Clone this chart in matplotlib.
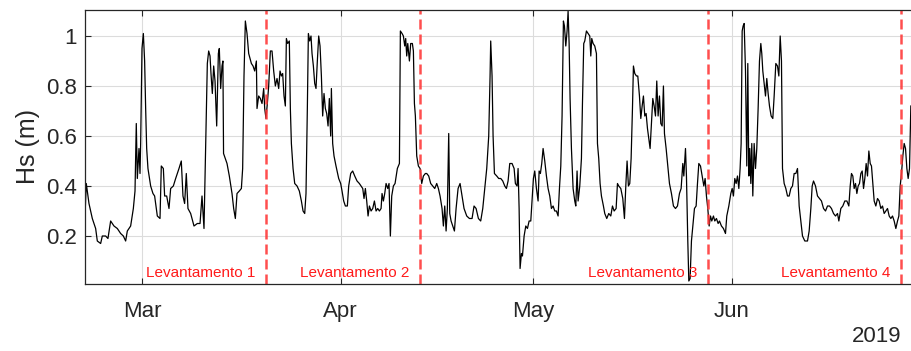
import numpy as np
import pandas as pd
import matplotlib
matplotlib.use('Agg')
import matplotlib.pyplot as plt
import matplotlib.dates as mdates

plt.rcParams['font.family'] = ['Liberation Sans', 'DejaVu Sans']

# Hs series, time as days since 2019-03-01
days = [
    -8.89, -8.69, -8.27, -7.75, -7.23, -6.97, -6.45, -6.19, -5.67, -5.31,
    -4.89, -4.37, -3.85, -3.33, -2.91, -2.55, -2.29, -1.77, -1.35, -1.09,
    -0.89, -0.73, -0.47, -0.31, -0.21, 0.00, 0.21, 0.41, 0.57, 0.73,
    0.93, 1.35, 1.71, 1.97, 2.13, 2.39, 2.81, 3.01, 3.33, 3.53,
    3.85, 4.21, 4.47, 4.89, 5.25, 5.77, 6.13, 6.39, 6.65, 6.91,
    7.17, 7.59, 8.11, 8.63, 9.05, 9.36, 9.67, 9.93, 10.19, 10.40,
    10.61, 10.76, 10.97, 11.18, 11.39, 11.65, 11.91, 12.06, 12.27, 12.48,
    12.62, 12.72, 13.26, 13.62, 14.04, 14.30, 14.56, 14.82, 15.18, 15.50,
    15.70, 15.91, 16.12, 16.38, 16.64, 17.06, 17.32, 17.58, 17.84, 17.94,
    18.20, 18.46, 18.72, 18.98, 19.14, 19.34, 19.55, 19.76, 20.02, 20.28,
    20.54, 20.80, 21.06, 21.32, 21.53, 21.74, 21.94, 22.15, 22.36, 22.52,
    22.72, 22.98, 23.14, 23.30, 23.56, 23.82, 24.18, 24.54, 24.86, 25.12,
    25.38, 25.58, 25.79, 25.95, 26.16, 26.36, 26.52, 26.73, 26.94, 27.14,
    27.35, 27.56, 27.77, 27.98, 28.18, 28.39, 28.60, 28.81, 29.02, 29.22,
    29.43, 29.54, 29.74, 29.95, 30.26, 30.68, 30.99, 31.20, 31.46, 31.72,
    32.03, 32.24, 32.55, 32.86, 33.18, 33.54, 33.90, 34.43, 34.63, 34.84,
    35.05, 35.26, 35.47, 35.73, 35.99, 36.25, 36.51, 36.77, 37.03, 37.29,
    37.44, 37.65, 37.86, 38.07, 38.33, 38.53, 38.74, 38.95, 39.21, 39.47,
    39.83, 40.15, 40.30, 40.56, 40.77, 40.98, 41.13, 41.29, 41.45, 41.71,
    41.91, 42.17, 42.33, 42.49, 42.64, 42.85, 43.11, 43.37, 43.63, 43.89,
    44.20, 44.41, 44.72, 45.03, 45.35, 45.66, 45.97, 46.23, 46.49, 46.80,
    47.01, 47.22, 47.43, 47.63, 47.84, 48.00, 48.21, 48.47, 48.73, 48.99,
    49.30, 49.61, 49.92, 50.23, 50.65, 51.07, 51.48, 51.79, 52.11, 52.47,
    52.83, 53.15, 53.46, 53.77, 54.08, 54.29, 54.39, 54.60, 54.76, 54.97,
    55.33, 55.64, 55.96, 56.27, 56.58, 56.84, 57.10, 57.36, 57.72, 58.04,
    58.24, 58.50, 58.66, 58.82, 58.97, 59.18, 59.34, 59.60, 59.86, 60.12,
    60.38, 60.64, 60.84, 61.05, 61.26, 61.52, 61.78, 61.94, 62.14, 62.35,
    62.56, 62.82, 63.08, 63.34, 63.60, 63.86, 64.12, 64.38, 64.64, 64.90,
    65.11, 65.32, 65.52, 65.73, 65.89, 66.10, 66.30, 66.46, 66.62, 66.77,
    66.98, 67.24, 67.50, 67.66, 67.86, 68.02, 68.28, 68.54, 68.70, 68.90,
    69.06, 69.32, 69.58, 69.84, 70.00, 70.15, 70.36, 70.62, 70.88, 71.04,
    71.24, 71.45, 71.66, 71.97, 72.18, 72.49, 72.80, 73.12, 73.38, 73.64,
    73.95, 74.16, 74.36, 74.68, 74.99, 75.25, 75.46, 75.66, 75.87, 76.08,
    76.29, 76.50, 76.65, 76.86, 77.12, 77.33, 77.59, 77.80, 78.01, 78.21,
    78.42, 78.63, 78.84, 79.05, 79.25, 79.46, 79.67, 79.88, 80.09, 80.29,
    80.50, 80.71, 80.92, 81.13, 81.33, 81.49, 81.75, 82.01, 82.27, 82.58,
    82.89, 83.21, 83.52, 83.83, 84.09, 84.35, 84.51, 84.77, 84.92, 85.13,
    85.29, 85.49, 85.70, 85.91, 86.17, 86.43, 86.64, 86.85, 87.11, 87.37,
    87.63, 87.83, 88.04, 88.25, 88.46, 88.67, 88.87, 89.13, 89.34, 89.60,
    89.86, 90.07, 90.38, 90.69, 91.01, 91.21, 91.53, 91.84, 92.05, 92.25,
    92.46, 92.67, 92.88, 93.09, 93.29, 93.45, 93.61, 93.76, 93.92, 94.13,
    94.33, 94.49, 94.65, 94.80, 94.96, 95.11, 95.27, 95.48, 95.69, 95.89,
    96.10, 96.31, 96.52, 96.67, 96.83, 97.04, 97.25, 97.45, 97.66, 97.87,
    98.13, 98.39, 98.60, 98.86, 99.12, 99.33, 99.54, 99.74, 99.90, 100.16,
    100.42, 100.68, 100.94, 101.20, 101.46, 101.72, 101.98, 102.24, 102.50, 102.76,
    103.02, 103.38, 103.80, 104.06, 104.32, 104.53, 104.74, 105.05, 105.36, 105.67,
    105.98, 106.30, 106.61, 106.92, 107.23, 107.54, 107.86, 108.17, 108.48, 108.69,
    109.00, 109.31, 109.62, 109.94, 110.25, 110.46, 110.66, 110.87, 111.08, 111.29,
    111.50, 111.70, 111.91, 112.12, 112.33, 112.54, 112.74, 112.95, 113.16, 113.37,
    113.58, 113.78, 113.99, 114.20, 114.46, 114.72, 114.98, 115.24, 115.50, 115.76,
    116.02, 116.28, 116.54, 116.80, 117.06, 117.32, 117.58, 117.84, 118.05, 118.26,
    118.46, 118.67, 118.88, 119.09, 119.30, 119.50, 119.71, 119.92,
]
hs = [
    0.28, 0.41, 0.33, 0.27, 0.23, 0.18, 0.17, 0.20, 0.20, 0.19,
    0.26, 0.24, 0.23, 0.21, 0.20, 0.18, 0.22, 0.24, 0.31, 0.38,
    0.65, 0.43, 0.55, 0.45, 0.57, 0.95, 1.01, 0.90, 0.71, 0.55,
    0.47, 0.40, 0.37, 0.36, 0.33, 0.28, 0.27, 0.48, 0.47, 0.36,
    0.36, 0.31, 0.39, 0.40, 0.43, 0.47, 0.50, 0.36, 0.33, 0.45,
    0.31, 0.29, 0.24, 0.25, 0.25, 0.36, 0.23, 0.55, 0.89, 0.94,
    0.92, 0.85, 0.77, 0.88, 0.82, 0.64, 0.93, 0.95, 0.79, 0.88,
    0.90, 0.53, 0.49, 0.44, 0.37, 0.31, 0.27, 0.37, 0.38, 0.39,
    0.47, 0.84, 1.06, 1.01, 0.93, 0.89, 0.88, 0.86, 0.90, 0.71,
    0.76, 0.75, 0.73, 0.79, 0.71, 0.67, 0.73, 0.80, 0.94, 0.94,
    0.86, 0.80, 0.83, 0.79, 0.86, 0.84, 0.85, 0.76, 0.72, 0.99,
    0.97, 0.98, 0.71, 0.57, 0.47, 0.41, 0.40, 0.38, 0.34, 0.30,
    0.29, 0.37, 0.71, 1.01, 0.98, 1.00, 0.93, 0.88, 0.81, 0.79,
    0.90, 1.00, 0.96, 0.84, 0.68, 0.77, 0.71, 0.69, 0.64, 0.75,
    0.60, 0.79, 0.57, 0.52, 0.48, 0.43, 0.41, 0.38, 0.34, 0.32,
    0.32, 0.40, 0.45, 0.46, 0.44, 0.42, 0.41, 0.39, 0.35, 0.39,
    0.34, 0.28, 0.32, 0.30, 0.31, 0.34, 0.30, 0.31, 0.30, 0.31,
    0.37, 0.34, 0.37, 0.41, 0.39, 0.41, 0.20, 0.36, 0.40, 0.41,
    0.47, 0.49, 1.02, 1.01, 1.00, 0.96, 0.99, 0.92, 0.97, 0.90,
    0.97, 0.97, 0.94, 0.73, 0.68, 0.52, 0.48, 0.47, 0.41, 0.44,
    0.45, 0.45, 0.44, 0.41, 0.40, 0.39, 0.41, 0.39, 0.36, 0.31,
    0.24, 0.32, 0.22, 0.31, 0.61, 0.29, 0.26, 0.24, 0.22, 0.31,
    0.39, 0.41, 0.36, 0.31, 0.28, 0.27, 0.27, 0.32, 0.31, 0.27,
    0.26, 0.31, 0.39, 0.47, 0.60, 0.84, 0.98, 0.84, 0.60, 0.45,
    0.44, 0.43, 0.43, 0.42, 0.40, 0.39, 0.42, 0.49, 0.49, 0.47,
    0.41, 0.40, 0.47, 0.31, 0.07, 0.13, 0.12, 0.20, 0.24, 0.23,
    0.26, 0.26, 0.34, 0.43, 0.46, 0.39, 0.34, 0.46, 0.45, 0.49,
    0.55, 0.50, 0.44, 0.39, 0.36, 0.31, 0.32, 0.30, 0.30, 0.28,
    0.39, 0.48, 0.68, 1.06, 1.04, 0.96, 1.02, 1.10, 0.97, 0.75,
    0.55, 0.39, 0.34, 0.32, 0.46, 0.34, 0.40, 0.51, 0.73, 0.97,
    0.98, 1.02, 1.01, 1.00, 0.92, 0.99, 0.97, 0.96, 0.93, 0.57,
    0.51, 0.41, 0.36, 0.32, 0.29, 0.27, 0.29, 0.28, 0.32, 0.30,
    0.31, 0.41, 0.40, 0.39, 0.35, 0.27, 0.40, 0.50, 0.40, 0.41,
    0.51, 0.71, 0.88, 0.85, 0.84, 0.84, 0.76, 0.67, 0.72, 0.76,
    0.68, 0.69, 0.63, 0.59, 0.55, 0.65, 0.75, 0.72, 0.68, 0.82,
    0.68, 0.76, 0.65, 0.64, 0.80, 0.61, 0.55, 0.48, 0.41, 0.37,
    0.32, 0.31, 0.32, 0.37, 0.39, 0.49, 0.44, 0.55, 0.44, 0.18,
    0.02, 0.03, 0.18, 0.24, 0.31, 0.32, 0.41, 0.49, 0.48, 0.44,
    0.40, 0.43, 0.36, 0.31, 0.24, 0.28, 0.26, 0.28, 0.26, 0.27,
    0.25, 0.26, 0.24, 0.23, 0.21, 0.28, 0.32, 0.37, 0.39, 0.36,
    0.43, 0.41, 0.44, 0.39, 0.47, 0.57, 1.02, 1.04, 1.05, 0.86,
    0.48, 0.89, 0.44, 0.55, 0.41, 0.57, 0.36, 0.57, 0.47, 0.55,
    0.71, 0.90, 0.97, 0.93, 0.86, 0.81, 0.76, 0.83, 0.77, 0.72,
    0.68, 0.67, 0.76, 0.89, 0.88, 0.84, 1.00, 0.90, 0.47, 0.41,
    0.39, 0.36, 0.36, 0.39, 0.40, 0.45, 0.45, 0.47, 0.32, 0.26,
    0.20, 0.18, 0.18, 0.22, 0.31, 0.40, 0.42, 0.40, 0.36, 0.35,
    0.34, 0.31, 0.30, 0.32, 0.32, 0.31, 0.29, 0.28, 0.29, 0.26,
    0.31, 0.32, 0.34, 0.34, 0.32, 0.40, 0.45, 0.44, 0.39, 0.41,
    0.37, 0.40, 0.41, 0.45, 0.46, 0.39, 0.43, 0.49, 0.44, 0.54,
    0.49, 0.48, 0.41, 0.34, 0.32, 0.35, 0.34, 0.31, 0.32, 0.29,
    0.30, 0.31, 0.28, 0.27, 0.28, 0.26, 0.23, 0.26, 0.28, 0.40,
    0.45, 0.52, 0.57, 0.55, 0.47, 0.43, 0.47, 0.72,
]

# survey dates (days since 2019-03-01) and their labels
survey_days = [19.40, 43.37, 88.30, 118.36]
survey_labels = ['Levantamento 1', 'Levantamento 2', 'Levantamento 3', 'Levantamento 4']

t0 = pd.Timestamp('2019-03-01')
t = t0 + pd.to_timedelta(np.array(days), unit='D')

fig = plt.figure(figsize=(9.12, 3.51), dpi=100)
ax = fig.add_axes([85 / 912, 67 / 351, 827 / 912, 274 / 351])

ax.plot(t, hs, color='black', linewidth=0.9)

dark = '#262626'
for d, lab in zip(survey_days, survey_labels):
    ts = t0 + pd.Timedelta(days=d)
    ax.axvline(ts, color='#ff3b3b', linestyle=(0, (4, 2)), linewidth=1.8, alpha=0.9)
    ax.text(ts - pd.Timedelta(days=1.7), 0.052, lab, color='#ff1a1a',
            fontsize=11, ha='right', va='center')

ax.set_xlim(t0 + pd.Timedelta(days=-8.89), t0 + pd.Timedelta(days=120.1))
ax.set_ylim(0.008, 1.104)
ax.set_yticks([0.2, 0.4, 0.6, 0.8, 1.0])
ax.yaxis.set_major_formatter(plt.FuncFormatter(lambda v, p: f'{v:g}'))
ax.xaxis.set_major_locator(mdates.MonthLocator())
ax.xaxis.set_major_formatter(mdates.DateFormatter('%b'))

ax.grid(True, color='#dcdcdc', linewidth=0.8)
ax.set_axisbelow(True)
ax.tick_params(axis='both', direction='in', length=4, width=0.8, colors=dark,
               labelsize=16, top=True, right=False)
ax.tick_params(axis='x', pad=12)
ax.tick_params(axis='y', pad=6)
for side in ['top', 'left', 'bottom']:
    ax.spines[side].set_color(dark)
    ax.spines[side].set_linewidth(0.9)
ax.spines['right'].set_visible(False)

ax.set_ylabel('Hs (m)', fontsize=18, color=dark, labelpad=4)
fig.text(877 / 912, 1 - 336 / 351, '2019', fontsize=16, color=dark,
         ha='center', va='center')

fig.savefig('out.png', dpi=100)
